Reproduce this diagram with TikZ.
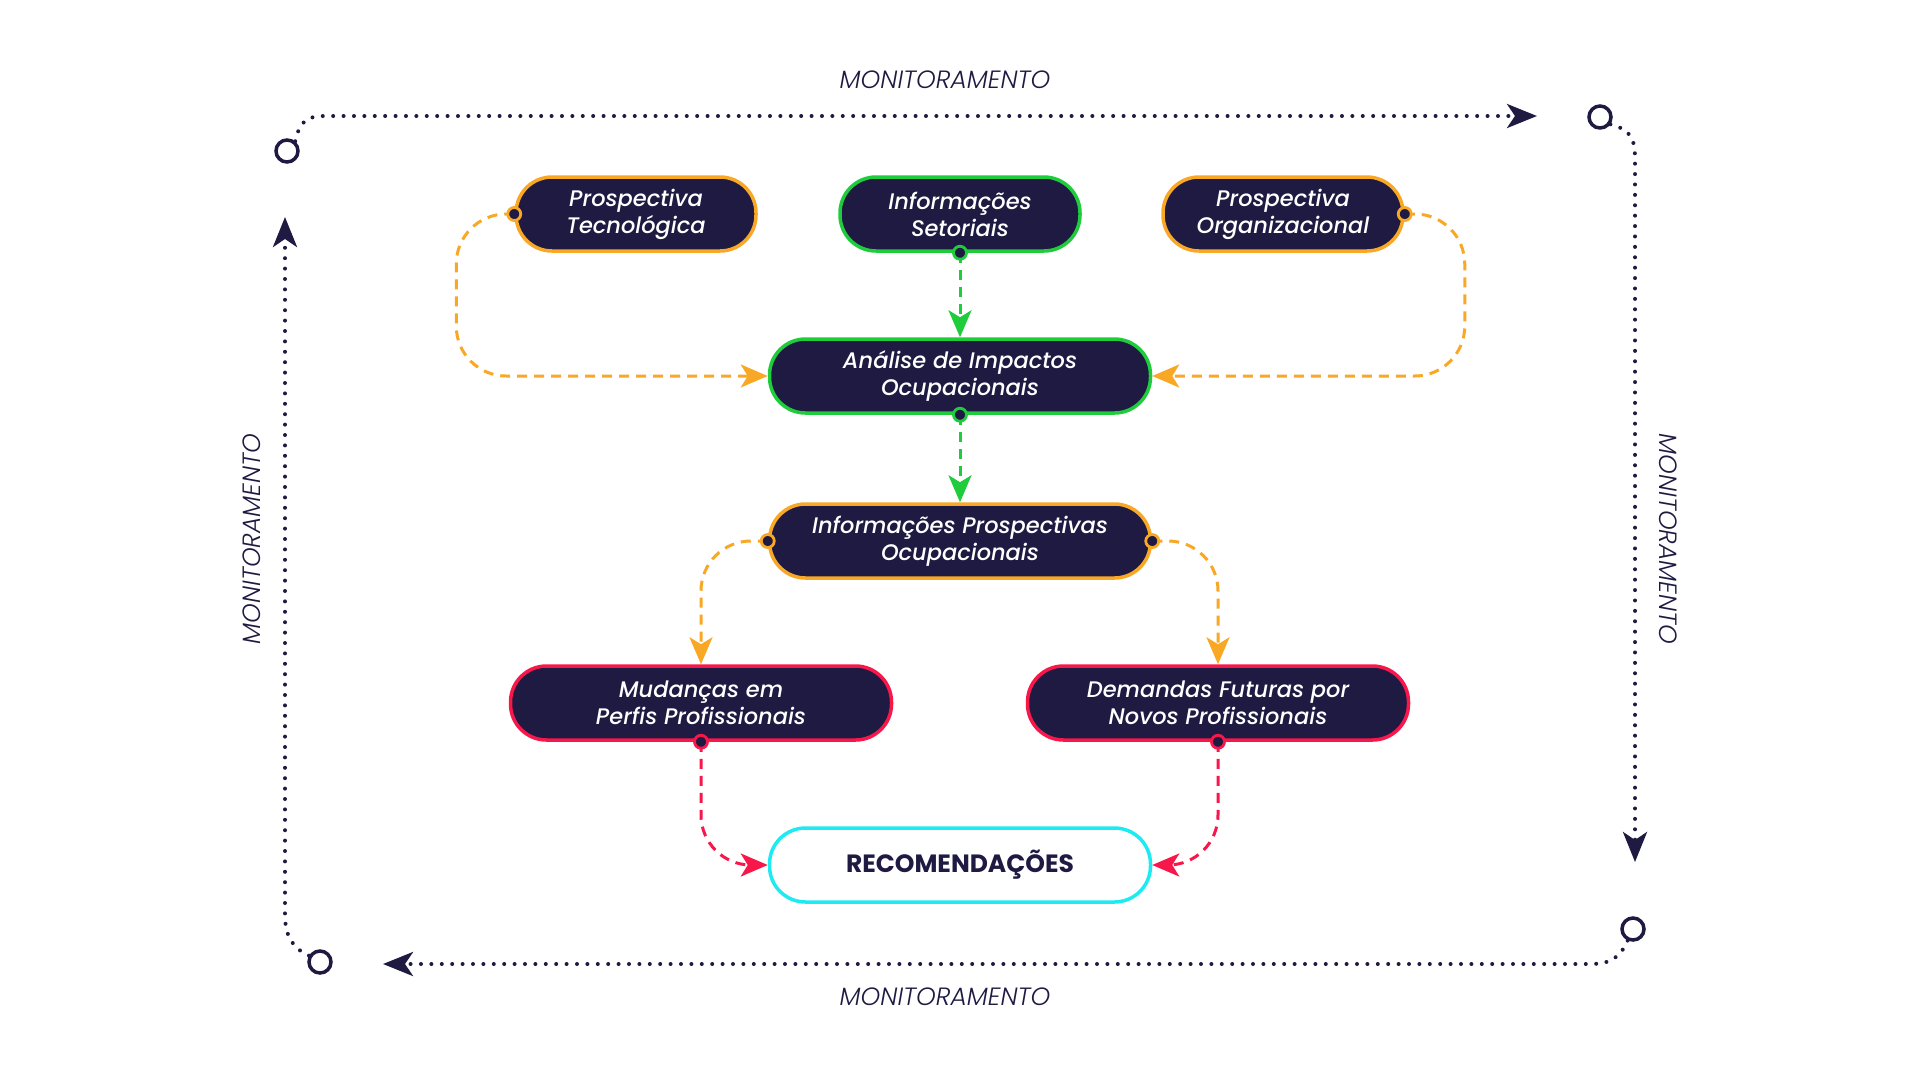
\documentclass[tikz,border=0pt]{standalone}
\usepackage{fontspec}
\setmainfont{Poppins}[ItalicFont={Poppins Medium Italic},BoldFont={Poppins Bold}]
\newfontfamily\monfont{Poppins Light}[ItalicFont={Poppins Light Italic}]
\usetikzlibrary{arrows.meta,positioning}

\definecolor{navy}{HTML}{1E1A42}
\definecolor{amber}{HTML}{F9A826}
\definecolor{leaf}{HTML}{1ECC3C}
\definecolor{rose}{HTML}{F8174A}
\definecolor{aqua}{HTML}{1EEAF2}

\tikzset{
  box/.style={draw=#1, line width=3.5pt, fill=navy, text=white, rounded corners=36pt,
    minimum height=74pt, align=center, inner sep=0pt,
    font=\fontsize{22.5}{27}\selectfont\itshape},
  smallbox/.style={box=#1, minimum width=240pt},
  widebox/.style={box=#1, minimum width=381pt},
  link/.style={draw=#1, line width=3pt, dash pattern=on 10pt off 7pt, rounded corners=50pt,
    -{Stealth[length=27pt,width=23pt,inset=7pt]}},
  linkdot/.style={circle, draw=#1, fill=navy, line width=2.8pt, inner sep=0pt, minimum size=13pt},
  loopline/.style={navy, line width=4pt, line cap=round, dash pattern=on 0pt off 10.4pt,
    -{Stealth[length=30pt,width=24pt,inset=8pt]}},
  ring/.style={circle, draw=navy, line width=3.5pt, minimum size=22pt, inner sep=0pt},
  monlabel/.style={text=navy, font=\monfont\fontsize{25}{30}\selectfont\itshape}
}

\begin{document}
\begin{tikzpicture}[x=1pt, y=-1pt]
    \useasboundingbox (0,0) rectangle (1920,1080);

    \node[smallbox=amber] (tec) at (636,214) {Prospectiva\\Tecnológica};
    \node[smallbox=leaf] (set) at (960,214) {Informações\\Setoriais};
    \node[smallbox=amber] (org) at (1283,214) {Prospectiva\\Organizacional};
    \node[widebox=leaf] (ana) at (960,376) {Análise de Impactos\\Ocupacionais};
    \node[widebox=amber] (ipo) at (960,541) {Informações Prospectivas\\Ocupacionais};
    \node[widebox=rose] (mud) at (701,703) {Mudanças em\\Perfis Profissionais};
    \node[widebox=rose] (dem) at (1218,703) {Demandas Futuras por\\Novos Profissionais};
    \node[widebox=aqua, fill=white, text=navy, font=\fontsize{25}{30}\selectfont\bfseries] (rec) at (960,865) {RECOMENDAÇÕES};

    \draw[link=leaf] (set.south) -- (ana.north);
    \draw[link=leaf] (ana.south) -- (ipo.north);
    \draw[link=amber] (tec.west) -- ++(-58,0) |- (ana.west);
    \draw[link=amber] (org.east) -- ++(60,0) |- (ana.east);
    \draw[link=amber] (ipo.west) -| (mud.north);
    \draw[link=amber] (ipo.east) -| (dem.north);
    \draw[link=rose] (mud.south) |- (rec.west);
    \draw[link=rose] (dem.south) |- (rec.east);

    \node[linkdot=leaf] (setdot) at (set.south) {};
    \node[linkdot=leaf] (anadot) at (ana.south) {};
    \node[linkdot=amber] (tecdot) at (tec.west) {};
    \node[linkdot=amber] (orgdot) at (org.east) {};
    \node[linkdot=amber] (ipowdot) at (ipo.west) {};
    \node[linkdot=amber] (ipoedot) at (ipo.east) {};
    \node[linkdot=rose] (muddot) at (mud.south) {};
    \node[linkdot=rose] (demdot) at (dem.south) {};

    % monitoring loop
    \node[ring] (ringtl) at (287,151) {};
    \node[ring] (ringtr) at (1600,117) {};
    \node[ring] (ringbr) at (1633,929) {};
    \node[ring] (ringbl) at (320,962) {};
    \coordinate (tipt) at (1537,116);
    \coordinate (tipr) at (1635,862);
    \coordinate (tipb) at (383,964);
    \coordinate (tipl) at (285,217);

    \draw[loopline] (ringtl.50) .. controls (300,120) and (308,116) .. (325,116) -- (tipt);
    \draw[loopline] (ringtr.-35) .. controls (1632,130) and (1635,140) .. (1635,160) -- (tipr);
    \draw[loopline] (ringbr.-115) .. controls (1620,958) and (1610,964) .. (1590,964) -- (tipb);
    \draw[loopline] (ringbl.150) .. controls (292,948) and (285,935) .. (285,915) -- (tipl);

    \node[monlabel] (montop) at (945,80) {MONITORAMENTO};
    \node[monlabel] (monbot) at (945,997) {MONITORAMENTO};
    \node[monlabel, rotate=90] (monleft) at (252,539) {MONITORAMENTO};
    \node[monlabel, rotate=-90] (monright) at (1668,539) {MONITORAMENTO};
\end{tikzpicture}
\end{document}
